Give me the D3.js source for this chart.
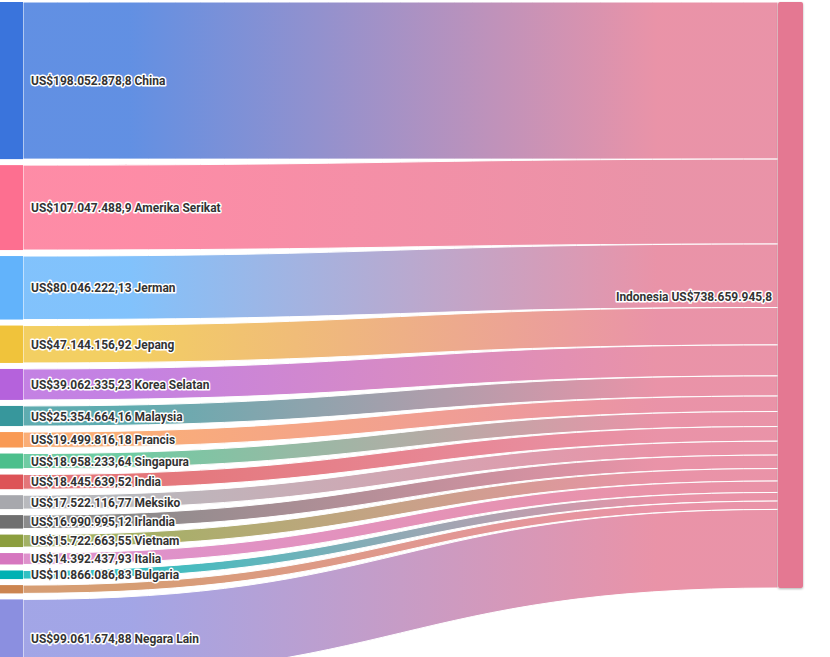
<!DOCTYPE html>
<html>
<head>
<meta charset="utf-8">
<script src="https://cdn.jsdelivr.net/npm/d3@7"></script>
<style>
  html, body { margin: 0; padding: 0; background: #fff; overflow: hidden; }
  svg { display: block; }
  .lbl { font-family: Roboto, "Liberation Sans", sans-serif; font-weight: 700; font-size: 13px; fill: #333; paint-order: stroke; stroke: #fff; stroke-width: 3px; stroke-linejoin: round; }
</style>
</head>
<body>
<svg id="chart" width="830" height="657"></svg>
<script>
// ---- data ----
const sources = ["China", "Amerika Serikat", "Jerman", "Jepang", "Korea Selatan", "Malaysia", "Prancis",
  "Singapura", "India", "Meksiko", "Irlandia", "Vietnam", "Italia", "Bulgaria", "(tidak berlabel)", "Negara Lain"];
const values = [198052878.8, 107047488.9, 80046222.13, 47144156.92, 39062335.23, 25354664.16, 19499816.18,
  18958233.64, 18445639.52, 17522116.77, 16990995.12, 15722663.55, 14392437.93, 10866086.83, 10492535.24, 99061674.88];
const showLabel = [true, true, true, true, true, true, true, true, true, true, true, true, true, true, false, true];
const sourceColors = ["#3a74dc", "#fd6f90", "#62b3fb", "#f0c33b", "#b562dc", "#37979c", "#f99a55",
  "#4cbf8c", "#dd5357", "#a7a8ad", "#6f6f6f", "#8c9e3e", "#d676bf", "#00b1b3", "#cc8550", "#8b8fe0"];
const target = "Indonesia";
const targetColor = "#e47892";

// ---- layout ----
const W = 830, H = 657;
const top0 = 2, nodePad = 6;
const srcX0 = 0, srcX1 = 23, tgtX0 = 778, tgtX1 = 803;
const total = d3.sum(values);
const k = d3.scaleLinear().domain([0, total]).range([0, 586]);

const locale = d3.formatLocale({decimal: ",", thousands: ".", grouping: [3], currency: ["US$", ""]});
const fmt = locale.format("$,.2~f");

const svg = d3.select("#chart");
const defs = svg.append("defs");
const shadow = defs.append("filter").attr("id", "sh").attr("x", "-20%").attr("y", "-5%").attr("width", "140%").attr("height", "110%");
shadow.append("feDropShadow").attr("dx", 0).attr("dy", 1).attr("stdDeviation", 1.2).attr("flood-color", "#000").attr("flood-opacity", 0.3);

// compute nodes
let ys = top0, yt = top0;
const nodes = sources.map((name, i) => {
  const h = k(values[i]);
  const n = {name, value: values[i], color: sourceColors[i], y0: ys, y1: ys + h, ty0: yt, ty1: yt + h, show: showLabel[i]};
  ys += h + nodePad;
  yt += h;
  return n;
});
const tgtY0 = top0, tgtY1 = top0 + k(total);

// links
const mx = (srcX1 + tgtX0) / 2;
function linkPath(n) {
  return `M${srcX1},${n.y0}C${mx},${n.y0} ${mx},${n.ty0} ${tgtX0},${n.ty0}` +
         `L${tgtX0},${n.ty1}C${mx},${n.ty1} ${mx},${n.y1} ${srcX1},${n.y1}Z`;
}
nodes.forEach((n, i) => {
  const g = defs.append("linearGradient").attr("id", "g" + i)
    .attr("gradientUnits", "userSpaceOnUse").attr("x1", srcX1).attr("x2", tgtX0).attr("y1", 0).attr("y2", 0);
  g.append("stop").attr("offset", "14%").attr("stop-color", n.color);
  g.append("stop").attr("offset", "84%").attr("stop-color", targetColor);
});
svg.append("g").selectAll("path").data(nodes).join("path")
  .attr("d", linkPath)
  .attr("fill", (d, i) => `url(#g${i})`)
  .attr("fill-opacity", 0.8)
  .attr("stroke", "#fff").attr("stroke-width", 1);

// source nodes
svg.append("g").selectAll("rect").data(nodes).join("rect")
  .attr("x", srcX0).attr("width", srcX1 - srcX0)
  .attr("y", d => d.y0).attr("height", d => d.y1 - d.y0)
  .attr("fill", d => d.color);

// target node
svg.append("rect").attr("x", tgtX0).attr("width", tgtX1 - tgtX0)
  .attr("y", tgtY0).attr("height", tgtY1 - tgtY0)
  .attr("rx", 2).attr("fill", targetColor).attr("filter", "url(#sh)");

// labels (slightly condensed)
const sx = 0.92;
svg.append("g").selectAll("text").data(nodes.filter(d => d.show)).join("text")
  .attr("class", "lbl")
  .attr("transform", d => `translate(31,${(d.y0 + d.y1) / 2}) scale(${sx},1)`)
  .attr("dy", "0.35em")
  .text(d => `${fmt(d.value)} ${d.name}`);
svg.append("text").attr("class", "lbl")
  .attr("transform", `translate(772,${(tgtY0 + tgtY1) / 2 + 1}) scale(${sx},1)`)
  .attr("dy", "0.35em").attr("text-anchor", "end")
  .text(`${target} ${fmt(total)}`);
</script>
</body>
</html>
